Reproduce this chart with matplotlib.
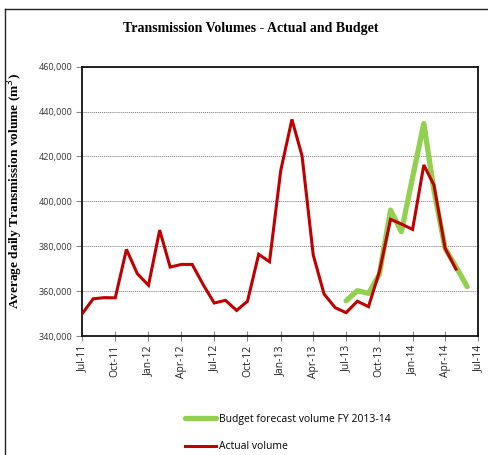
import matplotlib
matplotlib.use("Agg")
import matplotlib.pyplot as plt
import matplotlib.dates as mdates
from matplotlib.lines import Line2D
import matplotlib.ticker as mticker
import pandas as pd

title = "Transmission Volumes - Actual and Budget"
ylabel = "Average daily Transmission volume (m$^3$)"

actual_start = "2011-07-01"
actual = [349800, 356600, 357100, 357000, 378600, 367800, 362600, 387200,
          370700, 371900, 371900, 362700, 354700, 355900, 351400, 355500,
          376400, 373100, 413700, 436500, 420300, 376100, 358700, 352600,
          350400, 355500, 353100, 368600, 392000, 389900, 387500, 416200,
          407300, 379100, 369800]

budget_start = "2013-07-01"
budget = [355700, 360200, 359000, 367500, 396100, 386500, 410700, 434700,
          405000, 379000, 370900, 362000]

budget_label = "Budget forecast volume FY 2013-14"
actual_label = "Actual volume"

xtick_start = "2011-07-01"
xtick_end = "2014-07-01"
y_min, y_max, y_step = 340000, 460000, 20000

actual_x = pd.date_range(actual_start, periods=len(actual), freq="MS")
budget_x = pd.date_range(budget_start, periods=len(budget), freq="MS")
xticks = pd.date_range(xtick_start, xtick_end, freq="3MS")

fig = plt.figure(figsize=(4.89, 4.55), dpi=100)
ax = fig.add_axes([0.1677, 0.2615, 0.9775 - 0.1677, 0.8534 - 0.2615])

lb, = ax.plot(budget_x, budget, color="#92D050", lw=3.8, solid_capstyle="round",
              solid_joinstyle="round", label=budget_label, zorder=3)
la, = ax.plot(actual_x, actual, color="#C00000", lw=2.2, solid_joinstyle="miter",
              label=actual_label, zorder=4)

ax.set_xlim(xticks[0], xticks[-1])
ax.set_ylim(y_min, y_max)
ax.set_xticks(xticks)
ax.xaxis.set_major_formatter(mdates.DateFormatter("%b-%y"))
ax.set_yticks(range(y_min, y_max + 1, y_step))
ax.yaxis.set_major_formatter(mticker.FuncFormatter(lambda v, p: f"{int(v):,}"))

tick_font = "Open Sans"
for lab in ax.get_xticklabels():
    lab.set_rotation(90)
    lab.set_fontsize(7.5)
    lab.set_family(tick_font)
    lab.set_color("#222222")
for lab in ax.get_yticklabels():
    lab.set_fontsize(6.5)
    lab.set_family(tick_font)
    lab.set_color("#333333")

ax.tick_params(axis="x", direction="inout", length=7, width=0.8, color="#888888", pad=3)
ax.tick_params(axis="y", direction="out", length=4, width=0.8, color="#888888", pad=3)

ax.grid(axis="y", linestyle=(0, (1, 1)), color="#777777", lw=0.7)
ax.set_axisbelow(True)
for s in ax.spines.values():
    s.set_linewidth(1.3)
    s.set_color("#111111")

ax.set_ylabel(ylabel, fontsize=9.6, fontweight="bold", family="Liberation Serif")
ax.yaxis.set_label_coords(-0.145, 0.54)
fig.text(0.512, 0.938, title, ha="center", va="center", fontsize=10,
         fontweight="bold", family="Liberation Serif")

fig.legend(handles=[lb, la], loc="upper left", bbox_to_anchor=(0.37, 0.10),
           frameon=False, prop={"family": tick_font, "size": 7.5},
           handlelength=3.0, handletextpad=0.25, labelspacing=1.6,
           borderaxespad=0)

# outer chart frame (top and left edges visible)
fig.add_artist(Line2D([0.010, 0.010], [0.0, 0.980], transform=fig.transFigure,
                      color="#222222", lw=1.0))
fig.add_artist(Line2D([0.010, 1.0], [0.980, 0.980], transform=fig.transFigure,
                      color="#222222", lw=1.0))

fig.savefig("out.png", dpi=100)
